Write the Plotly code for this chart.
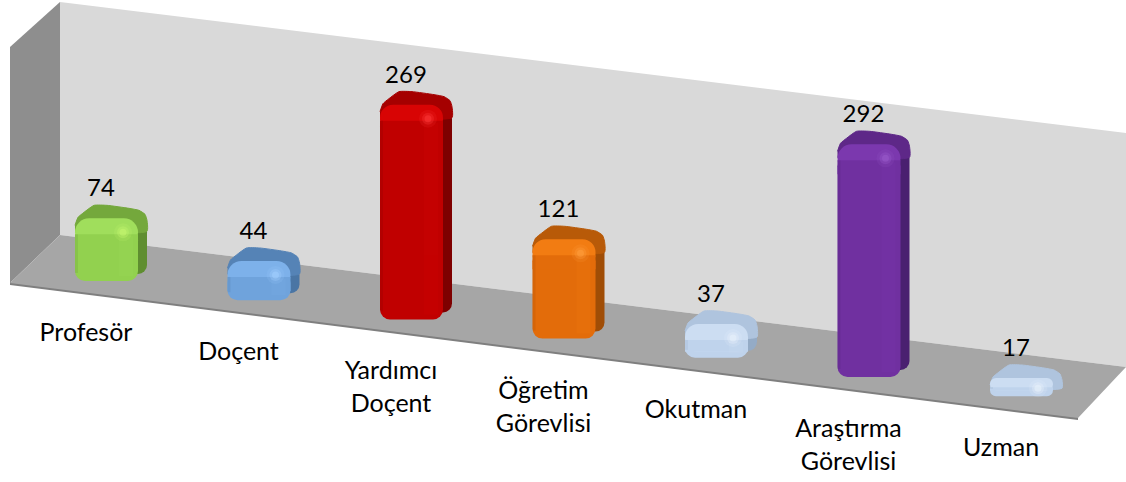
import plotly.graph_objects as go

categories = ["Profesör", "Doçent", "Yardımcı<br>Doçent", "Öğretim<br>Görevlisi", "Okutman", "Araştırma<br>Görevlisi", "Uzman"]
values = [74, 44, 269, 121, 37, 292, 17]

front = ["#92D14F", "#6FA3DC", "#C00000", "#E36C0A", "#BFD3EC", "#7030A0", "#BFD3EC"]
bevel = ["#A0DE5C", "#7DB1EA", "#D80404", "#F27C12", "#CCDDF2", "#7B38AE", "#CCDDF2"]
cap = ["#74A83C", "#5583B6", "#A50000", "#B85A08", "#AFC4DE", "#5E2888", "#AFC4DE"]
side = ["#5F8E30", "#4A75A4", "#7E0000", "#A04D06", "#94ABC6", "#4A2070", "#94ABC6"]
glow = ["#C8F870", "#A4D2FF", "#FF3A3A", "#FFA040", "#EAF3FC", "#9C5CCC", "#EAF3FC"]

W, H = 1126, 482
STEP, X0 = 152.5, 111        # px between categories, px of first category
PX_PER_UNIT = 0.78           # vertical scale
FLOOR0, FLOOR_SLOPE = 281, 19.2   # px of the front edge of the first bar, px drop per category
BAR_EXTRA = 23               # value units added for the bevelled 3-D cap
ROOF_DX = [-36, -33, -27, -17, -4, 18, 28, 34, 36, 36, -36]   # outline of a bar's roof
ROOF_DY = [20, 12, 7, 0, 0, 3, 5, 9, 15, 26, 26]

idx = list(range(len(values)))
py = lambda p: (H - p) / PX_PER_UNIT
ux = lambda p: p / STEP
floor_px = [FLOOR0 + FLOOR_SLOPE * i for i in idx]
top_px = [f - (v + BAR_EXTRA) * PX_PER_UNIT for f, v in zip(floor_px, values)]


def layer(fig, x0, x1, top, bottom, colors, radius, opacity=1.0, down=False, over=True):
    """Bar from `bottom` to `top` (pixel rows per category); rounded at the far end."""
    if down:
        base = [py(t) for t in top]
        y = [py(b) - py(t) for t, b in zip(top, bottom)]
    else:
        base = [py(b) for b in bottom]
        y = [py(t) - py(b) for t, b in zip(top, bottom)]
    fig.add_trace(go.Bar(x=idx, y=y, base=base, width=ux(x1 - x0), offset=ux(x0),
                         xaxis="x2" if over else "x", yaxis="y2" if over else "y",
                         marker=dict(color=colors, cornerradius=radius, line=dict(width=0)),
                         opacity=opacity, hoverinfo="skip", showlegend=False))


fig = go.Figure()
off = lambda arr, d: [a + d for a in arr]
clip = lambda arr, lim: [min(a, b) for a, b in zip(arr, lim)]

# right-hand side face
side_floor = off(floor_px, -7)
layer(fig, 0, 36, clip(off(top_px, 18), off(side_floor, -10)), side_floor, side, 9, down=True, over=False)
# roof of each bar, following its tilt
for i in idx:
    fig.add_trace(go.Scatter(
        x=[i + ux(d) for d in ROOF_DX],
        y=[py(min(top_px[i] + d, floor_px[i] - 8)) for d in ROOF_DY],
        mode="lines", fill="toself", fillcolor=cap[i], hoverinfo="skip", showlegend=False,
        line=dict(color=cap[i], width=1, shape="spline", smoothing=0.5)))
# front face (on the overlaid axes so that it sits above the roof)
fr_top = off(top_px, 13)
layer(fig, -36, 27, clip(off(fr_top, 12), off(floor_px, -12)), floor_px, front, 10, down=True)
layer(fig, -36, 27, fr_top, clip(off(fr_top, 28), off(floor_px, -6)), bevel, 16)
layer(fig, -36, 27, clip(off(fr_top, 16), off(floor_px, -9)), clip(off(fr_top, 30), off(floor_px, -6)), front, 0)
# subtle vertical shading of the front face
band_top = clip(off(fr_top, 18), off(floor_px, -9))
band_low = off(floor_px, -5)
layer(fig, 8, 22, band_top, band_low, bevel, 0, opacity=0.2)
layer(fig, -36, -33, clip(off(fr_top, 16), off(floor_px, -9)), off(floor_px, -8), side, 0, opacity=0.2)

# specular highlight near the top right corner of each bar
hx = [i + ux(12) for i in idx]
hy = [py(min(t + 27, f - 8)) for t, f in zip(top_px, floor_px)]
for size, op in [(18, 0.15), (12, 0.3), (7, 0.5)]:
    fig.add_trace(go.Scatter(x=hx, y=hy, mode="markers", hoverinfo="skip", showlegend=False,
                             xaxis="x2", yaxis="y2",
                             marker=dict(color=glow, size=size, opacity=op, line=dict(width=0))))

val_font = dict(family="Lato, Carlito, sans-serif", size=24, color="#000000")
cat_font = dict(family="Lato, Carlito, sans-serif", size=25, color="#000000")
# value labels
fig.add_trace(go.Scatter(x=[i + ux(-10) for i in idx], y=[py(t - 15) for t in top_px], mode="text",
                         xaxis="x2", yaxis="y2",
                         text=[str(v) for v in values], textposition="middle center", textfont=val_font,
                         hoverinfo="skip", showlegend=False))
# category labels, line by line
line1 = [c.split("<br>")[0] for c in categories]
line2 = [c.split("<br>")[1] if "<br>" in c else "" for c in categories]
lab_px = [335 + 19.1 * i for i in idx]
for lines, d in [(line1, 0), (line2, 33)]:
    fig.add_trace(go.Scatter(x=[i + ux(-25) for i in idx], y=[py(p + d) for p in lab_px], mode="text",
                             xaxis="x2", yaxis="y2",
                             text=lines, textposition="middle center", textfont=cat_font,
                             hoverinfo="skip", showlegend=False))


def poly(points, fill):
    path = "M " + " L ".join(f"{x / W:.5f},{1 - y / H:.5f}" for x, y in points) + " Z"
    return dict(type="path", xref="paper", yref="paper", path=path, fillcolor=fill,
                line=dict(width=0), layer="below")


shapes = [
    poly([(10, 47), (60, 2), (60, 235), (10, 283)], "#8E8E8E"),
    poly([(60, 2), (1126, 133), (1126, 367), (60, 235)], "#D9D9D9"),
    poly([(10, 285), (1078, 420), (1078, 417), (10, 282)], "#7F7F7F"),
    poly([(10, 283), (60, 235), (1126, 367), (1078, 418)], "#A6A6A6"),
]

x_range = [-X0 / STEP, (W - X0) / STEP]
y_range = [0, H / PX_PER_UNIT]
fig.update_layout(
    width=W, height=H, margin=dict(l=0, r=0, t=0, b=0), paper_bgcolor="white", plot_bgcolor="rgba(0,0,0,0)",
    barmode="overlay", shapes=shapes, showlegend=False,
    xaxis=dict(range=x_range, visible=False, fixedrange=True),
    yaxis=dict(range=y_range, visible=False, fixedrange=True),
    xaxis2=dict(range=x_range, visible=False, fixedrange=True, overlaying="x", anchor="y2"),
    yaxis2=dict(range=y_range, visible=False, fixedrange=True, overlaying="y", anchor="x2"),
)
fig.write_html("out.html", config={"displayModeBar": False},
               post_script="document.body.style.margin='0';document.documentElement.style.overflow='hidden';")
